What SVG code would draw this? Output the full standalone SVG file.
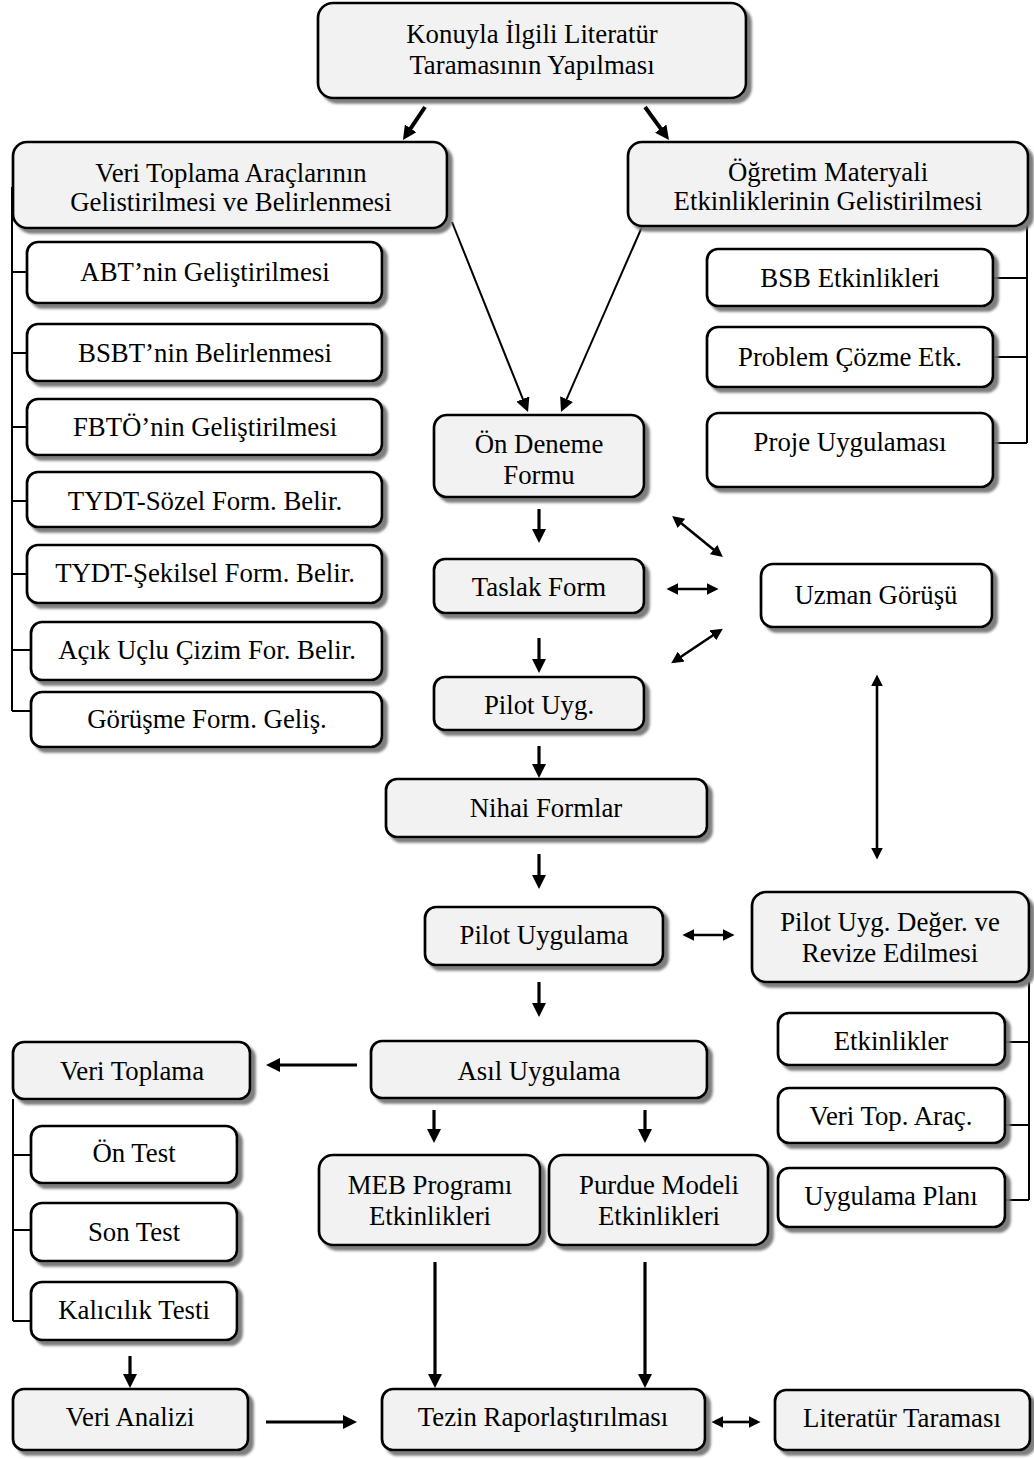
<svg xmlns="http://www.w3.org/2000/svg" width="1034" height="1459" viewBox="0 0 1034 1459">
  <defs>
    <filter id="shadow" x="-5%" y="-5%" width="115%" height="130%">
      <feDropShadow dx="4.5" dy="4.5" stdDeviation="1.3" flood-color="#707070" flood-opacity="0.9"/>
    </filter>
    <marker id="ah" viewBox="0 0 14 14" refX="4" refY="7" markerWidth="14" markerHeight="14" markerUnits="userSpaceOnUse" orient="auto-start-reverse">
      <path d="M0,0 L14,7 L0,14 Z" fill="#000"/>
    </marker>
    <marker id="ahs" viewBox="0 0 14 14" refX="4" refY="7" markerWidth="12" markerHeight="12" markerUnits="userSpaceOnUse" orient="auto-start-reverse">
      <path d="M0,0 L14,7 L0,14 Z" fill="#000"/>
    </marker>
  </defs>
  <style>
    .box { stroke: #000; stroke-width: 2.7; filter: url(#shadow); }
    .g { fill: #f2f2f2; }
    .w { fill: #ffffff; }
    text { font-family: "Liberation Serif", "Times New Roman", serif; font-size: 26.8px; fill: #000; text-anchor: middle; }
    .arr { stroke: #000; stroke-width: 3.2; fill: none; marker-end: url(#ah); }
    .thin { stroke: #000; stroke-width: 2; fill: none; marker-end: url(#ah); }
    .dbl { stroke: #000; stroke-width: 2.6; fill: none; marker-start: url(#ahs); marker-end: url(#ahs); }
    .br { stroke: #000; stroke-width: 2; fill: none; }
  </style>

  <rect width="1034" height="1459" fill="#fff"/>

  <!-- connectors -->
  <g id="connectors">
    <!-- brackets joining sub-items -->
    <path class="br" d="M12,187 V711 M12,272 H27 M12,353 H27 M12,427 H27 M12,501 H27 M12,574 H27 M12,650 H31 M12,711 H31"/>
    <path class="br" d="M1027,226 V443 M993,278 H1027 M993,357 H1027 M993,443 H1027"/>
    <path class="br" d="M1029,982 V1200 M1005,1042 H1029 M1005,1125 H1029 M1005,1200 H1029"/>
    <path class="br" d="M13,1099 V1321 M13,1155 H31 M13,1230 H31 M13,1321 H31"/>

    <!-- from the literature review box -->
    <line class="arr" style="stroke-width:4" x1="425" y1="107" x2="408.5" y2="131.7"/>
    <line class="arr" style="stroke-width:4" x1="645" y1="107" x2="663.1" y2="131.9"/>
    <line class="thin" x1="452" y1="222" x2="524.3" y2="402.7"/>
    <line class="thin" x1="645" y1="220" x2="565" y2="402.8"/>

    <!-- main vertical flow -->
    <line class="arr" x1="539" y1="509" x2="539" y2="533"/>
    <line class="arr" x1="539" y1="638" x2="539" y2="663"/>
    <line class="arr" x1="539" y1="746" x2="539" y2="768"/>
    <line class="arr" x1="539" y1="854" x2="539" y2="879"/>
    <line class="arr" x1="539" y1="982" x2="539" y2="1007"/>
    <line class="arr" x1="434" y1="1110" x2="434" y2="1133"/>
    <line class="arr" x1="645" y1="1110" x2="645" y2="1133"/>
    <line class="arr" x1="435" y1="1262" x2="435" y2="1378"/>
    <line class="arr" x1="645" y1="1262" x2="645" y2="1378"/>
    <line class="arr" x1="357" y1="1065" x2="276" y2="1065"/>
    <line class="arr" x1="130" y1="1356" x2="130" y2="1378"/>
    <line class="arr" x1="266" y1="1422" x2="347" y2="1422"/>

    <!-- two-way links -->
    <line class="dbl" x1="720" y1="1422" x2="752" y2="1422"/>
    <line class="dbl" x1="691" y1="935" x2="726" y2="935"/>
    <line class="dbl" x1="675" y1="589" x2="710" y2="589"/>
    <line class="dbl" x1="678.8" y1="521.3" x2="716.2" y2="551.7"/>
    <line class="dbl" x1="678.3" y1="658.5" x2="715.7" y2="633.5"/>
    <line class="dbl" x1="877" y1="683" x2="877" y2="851"/>
  </g>

  <g id="n-literatur-taramasi">
    <rect class="box g" x="318" y="3" width="428" height="95" rx="15"/>
    <text x="532" y="43">Konuyla İlgili Literatür</text>
    <text x="532" y="74">Taramasının Yapılması</text>
  </g>
  <g id="n-veri-toplama-araclari">
    <rect class="box g" x="13" y="142" width="434" height="86" rx="14"/>
    <text x="231" y="182">Veri Toplama Araçlarının</text>
    <text x="231" y="211">Gelistirilmesi ve Belirlenmesi</text>
  </g>
  <g id="n-ogretim-materyali">
    <rect class="box g" x="628" y="142" width="400" height="84" rx="14"/>
    <text x="828" y="181">Öğretim Materyali</text>
    <text x="828" y="210">Etkinliklerinin Gelistirilmesi</text>
  </g>

  <g id="n-abt">
    <rect class="box w" x="27" y="242" width="355" height="61" rx="11"/>
    <text x="205" y="281">ABT’nin Geliştirilmesi</text>
  </g>
  <g id="n-bsbt">
    <rect class="box w" x="27" y="324" width="355" height="57" rx="11"/>
    <text x="205" y="362">BSBT’nin Belirlenmesi</text>
  </g>
  <g id="n-fbto">
    <rect class="box w" x="27" y="399" width="355" height="56" rx="11"/>
    <text x="205" y="436">FBTÖ’nin Geliştirilmesi</text>
  </g>
  <g id="n-tydt-sozel">
    <rect class="box w" x="27" y="472" width="355" height="55" rx="11"/>
    <text x="205" y="510">TYDT-Sözel Form. Belir.</text>
  </g>
  <g id="n-tydt-sekilsel">
    <rect class="box w" x="27" y="545" width="355" height="58" rx="11"/>
    <text x="205" y="582">TYDT-Şekilsel Form. Belir.</text>
  </g>
  <g id="n-acik-uclu">
    <rect class="box w" x="31" y="622" width="351" height="58" rx="11"/>
    <text x="207" y="659">Açık Uçlu Çizim For. Belir.</text>
  </g>
  <g id="n-gorusme">
    <rect class="box w" x="31" y="692" width="351" height="55" rx="11"/>
    <text x="207" y="728">Görüşme Form. Geliş.</text>
  </g>

  <g id="n-bsb-etkinlikleri">
    <rect class="box w" x="707" y="249" width="286" height="57" rx="11"/>
    <text x="850" y="287">BSB Etkinlikleri</text>
  </g>
  <g id="n-problem-cozme">
    <rect class="box w" x="707" y="327" width="286" height="60" rx="11"/>
    <text x="850" y="366">Problem Çözme Etk.</text>
  </g>
  <g id="n-proje">
    <rect class="box w" x="707" y="413" width="286" height="74" rx="12"/>
    <text x="850" y="451">Proje Uygulaması</text>
  </g>

  <g id="n-on-deneme">
    <rect class="box g" x="434" y="415" width="210" height="82" rx="13"/>
    <text x="539" y="453">Ön Deneme</text>
    <text x="539" y="484">Formu</text>
  </g>
  <g id="n-taslak">
    <rect class="box g" x="434" y="559" width="210" height="54" rx="11"/>
    <text x="539" y="596">Taslak Form</text>
  </g>
  <g id="n-uzman">
    <rect class="box w" x="761" y="564" width="231" height="63" rx="12"/>
    <text x="876" y="604">Uzman Görüşü</text>
  </g>
  <g id="n-pilot-uyg">
    <rect class="box g" x="434" y="677" width="210" height="53" rx="11"/>
    <text x="539" y="714">Pilot Uyg.</text>
  </g>
  <g id="n-nihai">
    <rect class="box g" x="386" y="779" width="321" height="58" rx="11"/>
    <text x="546" y="817">Nihai Formlar</text>
  </g>
  <g id="n-pilot-uygulama">
    <rect class="box g" x="425" y="907" width="238" height="58" rx="11"/>
    <text x="544" y="944">Pilot Uygulama</text>
  </g>
  <g id="n-deger-revize">
    <rect class="box g" x="752" y="892" width="277" height="90" rx="14"/>
    <text x="890" y="931">Pilot Uyg. Değer. ve</text>
    <text x="890" y="962">Revize Edilmesi</text>
  </g>

  <g id="n-asil">
    <rect class="box g" x="371" y="1041" width="336" height="57" rx="11"/>
    <text x="539" y="1080">Asıl Uygulama</text>
  </g>
  <g id="n-veri-toplama">
    <rect class="box g" x="13" y="1042" width="237" height="57" rx="11"/>
    <text x="132" y="1080">Veri Toplama</text>
  </g>
  <g id="n-etkinlikler">
    <rect class="box w" x="778" y="1013" width="227" height="52" rx="11"/>
    <text x="891" y="1050">Etkinlikler</text>
  </g>
  <g id="n-veri-top-arac">
    <rect class="box w" x="778" y="1088" width="227" height="55" rx="11"/>
    <text x="891" y="1125">Veri Top. Araç.</text>
  </g>
  <g id="n-uygulama-plani">
    <rect class="box w" x="778" y="1168" width="227" height="59" rx="11"/>
    <text x="891" y="1205">Uygulama Planı</text>
  </g>

  <g id="n-on-test">
    <rect class="box w" x="31" y="1126" width="206" height="57" rx="11"/>
    <text x="134" y="1162">Ön Test</text>
  </g>
  <g id="n-son-test">
    <rect class="box w" x="31" y="1203" width="206" height="58" rx="11"/>
    <text x="134" y="1241">Son Test</text>
  </g>
  <g id="n-kalicilik">
    <rect class="box w" x="31" y="1282" width="206" height="58" rx="11"/>
    <text x="134" y="1319">Kalıcılık Testi</text>
  </g>

  <g id="n-meb">
    <rect class="box g" x="319" y="1155" width="221" height="90" rx="14"/>
    <text x="430" y="1194">MEB Programı</text>
    <text x="430" y="1225">Etkinlikleri</text>
  </g>
  <g id="n-purdue">
    <rect class="box g" x="549" y="1155" width="219" height="90" rx="14"/>
    <text x="659" y="1194">Purdue Modeli</text>
    <text x="659" y="1225">Etkinlikleri</text>
  </g>

  <g id="n-veri-analizi">
    <rect class="box g" x="13" y="1389" width="235" height="61" rx="11"/>
    <text x="130" y="1426">Veri Analizi</text>
  </g>
  <g id="n-tezin">
    <rect class="box g" x="382" y="1389" width="323" height="61" rx="11"/>
    <text x="543" y="1426">Tezin Raporlaştırılması</text>
  </g>
  <g id="n-literatur">
    <rect class="box g" x="775" y="1390" width="255" height="60" rx="11"/>
    <text x="902" y="1427">Literatür Taraması</text>
  </g>
</svg>
